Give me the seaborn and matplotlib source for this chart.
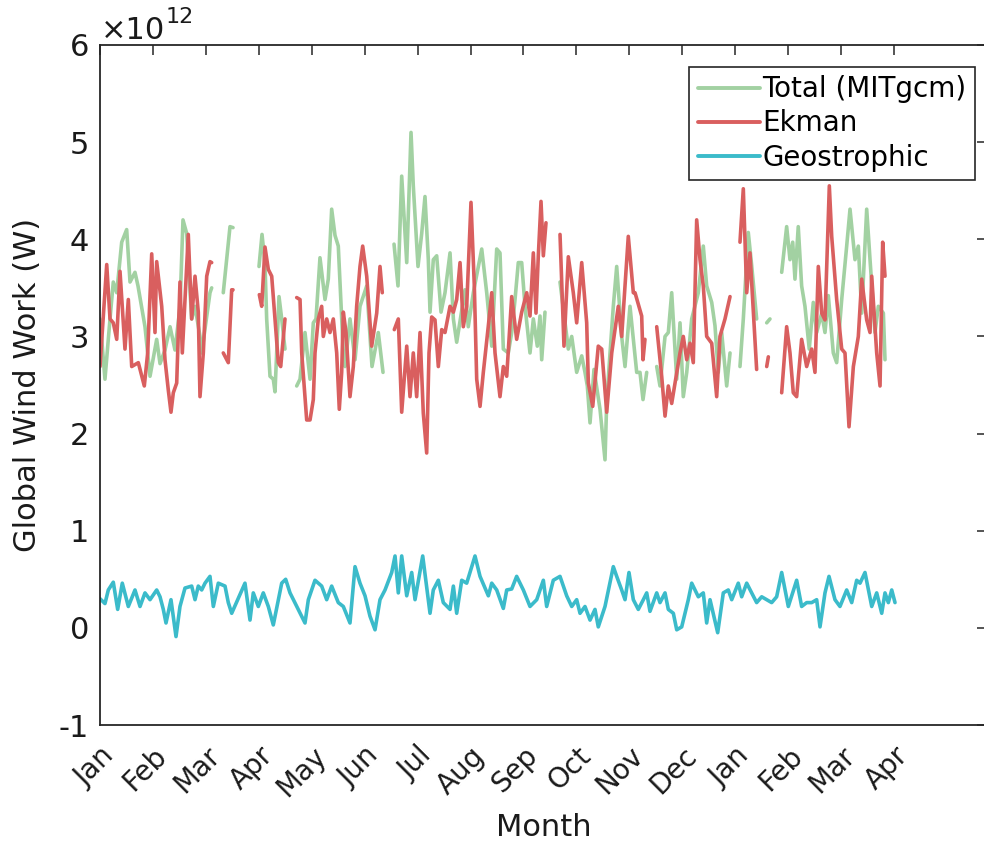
import numpy as np
import pandas as pd
import matplotlib
matplotlib.use("Agg")
import matplotlib.pyplot as plt
from matplotlib.lines import Line2D
import seaborn as sns

nan = np.nan

# ---- data (x in months since Jan 1, values in 1e12 W); NaN marks gaps ----
month_labels = ["Jan", "Feb", "Mar", "Apr", "May", "Jun", "Jul", "Aug", "Sep",
                "Oct", "Nov", "Dec", "Jan", "Feb", "Mar", "Apr"]

total_month = [0, 0.094, 0.189, 0.251, 0.316, 0.410, 0.504, 0.567, 0.661, 0.718, 0.850, 0.945,
               1.071, 1.134, 1.228, 1.323, 1.417, 1.511, 1.568, 1.638, 1.732, 1.795, 1.889, 1.921,
               2.078, 2.110, nan, 2.329, 2.456, 2.513, nan,
               3.004, 3.061, 3.117, 3.149, 3.212, 3.274, 3.306, 3.338, 3.382, 3.433, 3.495, nan,
               3.716, 3.779, 3.873, 3.968, 4.030, 4.081, 4.156, 4.251, 4.313, 4.377, 4.440, 4.502,
               4.597, 4.629, 4.723, 4.818, 4.912, 5.039, 5.139, 5.258, 5.347, nan,
               5.555, 5.630, 5.700, 5.795, 5.876, 5.919, 6.008, 6.078, 6.140, 6.203, 6.235, 6.297,
               6.361, 6.443, 6.518, 6.613, 6.676, 6.739, 6.896, 6.958, 7.053, 7.212, 7.306, 7.401,
               7.495, 7.557, 7.620, 7.714, 7.778, 7.841, 7.903, 7.967, 8.030, 8.124, 8.187, 8.262,
               8.313, 8.345, 8.407, nan,
               8.691, 8.848, 8.912, 9.006, 9.101, 9.163, 9.207, 9.258, 9.333, 9.447, 9.541, 9.573,
               9.636, 9.698, 9.762, 9.856, 9.919, 10.013, 10.140, 10.202, 10.259, 10.329, nan,
               10.518, 10.580, 10.675, 10.737, 10.801, 10.896, 10.958, 11.020, 11.085, 11.179,
               11.304, 11.398, 11.462, 11.557, 11.619, 11.681, 11.745, 11.840, 11.903, nan,
               12.091, 12.154, 12.248, 12.312, 12.406, nan, 12.596, 12.658, nan,
               12.879, 12.973, 13.036, 13.087, 13.130, 13.192, 13.256, 13.319, 13.400, 13.476,
               13.540, 13.635, 13.697, 13.760, 13.854, 13.918, 14.013, 14.107, 14.170, 14.264,
               14.327, 14.391, 14.485, 14.548, 14.642, 14.705, 14.800, 14.831]
total_val = [3.18, 2.56, 3.18, 3.56, 3.45, 3.97, 4.10, 3.56, 3.66, 3.52, 3.10, 2.59,
             2.97, 2.72, 2.86, 3.10, 2.86, 3.30, 4.20, 4.06, 3.18, 3.31, 3.00, 2.83,
             3.45, 3.50, nan, 3.45, 4.13, 4.12, nan,
             3.72, 4.05, 3.75, 3.18, 2.59, 2.56, 2.43, 2.83, 3.41, 3.18, 2.87, nan,
             2.49, 2.56, 3.04, 2.56, 3.14, 3.18, 3.81, 3.38, 3.59, 4.31, 4.04, 3.93,
             2.83, 2.69, 3.18, 2.76, 3.31, 3.52, 2.69, 3.04, 2.63, nan,
             3.95, 3.52, 4.65, 3.76, 5.10, 4.55, 3.72, 4.06, 4.44, 3.79, 3.25, 3.79,
             3.83, 3.25, 3.45, 3.86, 3.18, 2.94, 3.48, 3.10, 3.45, 3.90, 3.45, 2.90,
             3.90, 3.86, 2.87, 2.83, 3.04, 3.38, 3.76, 3.76, 3.31, 2.83, 3.18, 2.90,
             3.21, 2.76, 3.25, nan,
             3.56, 2.87, 3.00, 2.63, 2.80, 2.63, 2.49, 2.11, 2.66, 2.25, 1.73, 2.32,
             2.83, 3.31, 3.72, 3.00, 2.69, 3.31, 2.63, 2.63, 2.35, 2.63, nan,
             2.69, 2.49, 3.00, 3.04, 3.45, 2.56, 3.14, 2.38, 2.63, 3.18,
             3.45, 3.93, 3.52, 3.35, 3.11, 2.63, 3.04, 2.49, 2.83, nan,
             2.69, 3.18, 4.07, 3.73, 3.18, nan, 3.14, 3.18, nan,
             3.66, 4.13, 3.79, 3.97, 3.59, 4.13, 3.52, 3.31, 2.87, 3.35,
             3.04, 3.24, 3.04, 3.42, 2.83, 2.73, 3.38, 3.93, 4.31, 3.79,
             3.93, 3.24, 4.31, 3.79, 3.04, 3.31, 3.24, 2.76]

ekman_month = [0, 0.127, 0.189, 0.251, 0.316, 0.378, 0.472, 0.535, 0.599, 0.724, 0.837, 0.901,
               0.977, 1.039, 1.071, 1.166, 1.228, 1.290, 1.341, 1.385, 1.449, 1.511, 1.555, 1.668,
               1.732, 1.795, 1.857, 1.889, 1.952, 2.016, 2.078, 2.110, nan,
               2.329, 2.424, 2.488, 2.513, nan,
               3.010, 3.055, 3.117, 3.180, 3.244, 3.306, 3.369, 3.414, 3.495, nan,
               3.716, 3.779, 3.811, 3.905, 3.968, 4.030, 4.062, 4.124, 4.188, 4.219, 4.283, 4.345,
               4.408, 4.472, 4.521, 4.566, 4.597, 4.648, 4.723, 4.786, 4.849, 4.912, 4.963, 5.039,
               5.133, 5.228, 5.290, 5.333, nan,
               5.560, 5.636, 5.700, 5.795, 5.857, 5.919, 5.983, 6.046, 6.108, 6.172, 6.216, 6.267,
               6.329, 6.392, 6.456, 6.518, 6.613, 6.676, 6.739, 6.802, 6.864, 6.928, 7.009, 7.072,
               7.117, 7.180, 7.242, 7.337, 7.401, 7.463, 7.557, 7.620, 7.684, 7.778, 7.872, 7.967,
               8.062, 8.124, 8.187, 8.237, 8.281, 8.332, 8.376, 8.426, nan,
               8.691, 8.766, 8.848, 8.942, 9.006, 9.101, 9.195, 9.226, 9.309, 9.414, 9.479, 9.573,
               9.668, 9.792, 9.856, 9.919, 9.981, 10.076, 10.108, 10.234, 10.259, 10.296, nan,
               10.518, 10.612, 10.675, 10.737, 10.801, 10.864, 10.958, 11.020, 11.085, 11.147,
               11.209, 11.273, 11.336, 11.398, 11.462, 11.557, 11.651, 11.713, 11.808, 11.903, nan,
               12.091, 12.154, 12.218, 12.280, 12.406, nan, 12.596, 12.627, nan,
               12.879, 12.973, 13.036, 13.098, 13.162, 13.256, 13.351, 13.446, 13.508, 13.571,
               13.635, 13.697, 13.779, 13.824, 13.918, 14.013, 14.075, 14.151, 14.233, 14.327,
               14.391, 14.485, 14.548, 14.580, 14.674, 14.737, 14.787, 14.831]
ekman_val = [2.69, 3.74, 3.18, 3.14, 2.97, 3.67, 2.87, 3.38, 2.69, 2.73, 2.49, 2.83,
             3.85, 3.04, 3.77, 3.31, 2.76, 2.45, 2.22, 2.42, 2.52, 3.56, 2.83, 4.05,
             3.18, 3.62, 3.25, 2.38, 2.83, 3.62, 3.77, 3.76, nan,
             2.83, 2.73, 3.48, 3.48, nan,
             3.43, 3.31, 3.92, 3.69, 3.62, 3.18, 2.73, 2.69, 3.18, nan,
             3.40, 3.38, 2.83, 2.14, 2.14, 2.35, 2.83, 3.18, 3.31, 3.00, 3.18, 3.04,
             3.18, 2.83, 2.25, 2.63, 3.25, 3.04, 2.38, 2.69, 3.31, 3.72, 3.93, 3.62,
             2.90, 3.24, 3.72, 3.45, nan,
             3.07, 3.18, 2.22, 2.90, 2.38, 2.83, 2.38, 3.04, 2.21, 1.80, 2.83, 3.20,
             3.17, 2.69, 3.07, 3.04, 3.31, 3.25, 3.38, 3.76, 3.10, 3.31, 4.38, 3.52,
             2.56, 2.28, 2.63, 3.11, 3.45, 2.83, 2.38, 2.69, 2.59, 3.41, 2.97, 3.25,
             3.45, 3.21, 3.86, 3.24, 3.83, 4.39, 3.83, 4.17, nan,
             4.05, 2.90, 3.82, 3.45, 3.14, 3.76, 3.14, 2.52, 2.28, 2.90, 2.87, 2.22,
             2.83, 3.31, 3.00, 3.52, 4.03, 3.45, 3.45, 3.21, 2.76, 2.97, nan,
             3.10, 2.59, 2.18, 2.49, 2.31, 2.52, 2.83, 3.00, 2.76, 2.93,
             2.73, 4.20, 3.79, 3.52, 3.00, 2.93, 2.38, 3.00, 3.18, 3.41, nan,
             3.97, 4.52, 3.45, 3.86, 2.66, nan, 2.69, 2.79, nan,
             2.42, 3.10, 2.83, 2.42, 2.38, 2.97, 2.69, 2.87, 2.63, 3.72,
             3.24, 3.17, 4.55, 4.03, 3.38, 2.87, 2.83, 2.07, 2.69, 3.00,
             3.59, 3.17, 3.04, 3.62, 2.83, 2.49, 3.97, 3.62]

geo_month = [0, 0.094, 0.157, 0.251, 0.334, 0.421, 0.535, 0.661, 0.756, 0.850, 0.945, 1.071,
             1.134, 1.196, 1.247, 1.341, 1.436, 1.511, 1.606, 1.732, 1.795, 1.857, 1.921, 1.984,
             2.078, 2.141, 2.235, 2.362, 2.424, 2.488, 2.739, 2.834, 2.896, 2.991, 3.085, 3.180,
             3.274, 3.433, 3.508, 3.590, 3.746, 3.873, 3.936, 4.062, 4.188, 4.283, 4.377, 4.502,
             4.597, 4.723, 4.818, 4.912, 5.007, 5.101, 5.196, 5.290, 5.385, 5.511, 5.574, 5.636,
             5.700, 5.795, 5.889, 5.952, 6.097, 6.235, 6.297, 6.392, 6.486, 6.613, 6.676, 6.739,
             6.834, 6.928, 7.085, 7.180, 7.337, 7.401, 7.495, 7.620, 7.684, 7.778, 7.872, 7.998,
             8.124, 8.251, 8.376, 8.439, 8.564, 8.691, 8.817, 8.912, 9.006, 9.069, 9.163, 9.258,
             9.352, 9.414, 9.541, 9.698, 9.762, 9.856, 9.919, 9.994, 10.076, 10.170, 10.265,
             10.329, 10.391, 10.518, 10.580, 10.675, 10.737, 10.832, 10.896, 10.990, 11.115,
             11.179, 11.304, 11.398, 11.462, 11.525, 11.670, 11.776, 11.870, 11.935, 12.059,
             12.123, 12.218, 12.312, 12.406, 12.501, 12.596, 12.690, 12.784, 12.879, 13.004,
             13.162, 13.256, 13.351, 13.446, 13.540, 13.603, 13.697, 13.773, 13.886, 13.980,
             14.107, 14.202, 14.296, 14.359, 14.453, 14.580, 14.674, 14.769, 14.831, 14.894,
             14.958, 15.020]
geo_val = [0.30, 0.25, 0.39, 0.47, 0.19, 0.46, 0.22, 0.39, 0.22, 0.36, 0.29, 0.39,
           0.32, 0.19, 0.05, 0.29, -0.09, 0.22, 0.41, 0.43, 0.29, 0.43, 0.39, 0.46,
           0.53, 0.22, 0.46, 0.43, 0.26, 0.15, 0.46, 0.08, 0.36, 0.22, 0.36, 0.22,
           0.03, 0.46, 0.50, 0.36, 0.19, 0.05, 0.29, 0.49, 0.43, 0.29, 0.43, 0.26,
           0.22, 0.05, 0.63, 0.46, 0.33, 0.12, -0.02, 0.29, 0.39, 0.57, 0.74, 0.36,
           0.74, 0.33, 0.57, 0.29, 0.74, 0.15, 0.39, 0.49, 0.26, 0.19, 0.43, 0.15,
           0.49, 0.46, 0.74, 0.53, 0.33, 0.46, 0.39, 0.20, 0.39, 0.40, 0.53, 0.39,
           0.22, 0.29, 0.49, 0.22, 0.49, 0.53, 0.33, 0.22, 0.29, 0.15, 0.22, 0.08,
           0.19, 0.01, 0.22, 0.63, 0.53, 0.39, 0.29, 0.57, 0.29, 0.19, 0.29,
           0.36, 0.17, 0.36, 0.26, 0.36, 0.19, 0.15, -0.02, 0.01, 0.29,
           0.46, 0.32, 0.36, 0.05, 0.29, -0.05, 0.36, 0.39, 0.29, 0.46,
           0.32, 0.46, 0.36, 0.26, 0.32, 0.29, 0.26, 0.32, 0.57, 0.22,
           0.49, 0.22, 0.26, 0.26, 0.29, 0.01, 0.36, 0.53, 0.29, 0.22,
           0.39, 0.26, 0.49, 0.46, 0.57, 0.22, 0.36, 0.15, 0.36, 0.26,
           0.39, 0.26]

series_names = ["Total (MITgcm)", "Ekman", "Geostrophic"]
series_colors = ["#A2D1A2", "#D95F5F", "#3BBBCA"]

# ---- style ----
sns.set_style("white")
plt.rcParams["font.family"] = ["DejaVu Sans"]
plt.rcParams["axes.unicode_minus"] = False
text_color = "#1a1a1a"

fig = plt.figure(figsize=(9.84, 8.47), dpi=100)
ax = fig.add_axes([100 / 984, 1 - 725 / 847, 887 / 984, 680 / 847])


def segments(xs, ys):
    df = pd.DataFrame({"month": xs, "value": ys})
    df["seg"] = df["month"].isna().cumsum()
    return df.dropna()


for xs, ys, col in [(total_month, total_val, series_colors[0]),
                    (ekman_month, ekman_val, series_colors[1]),
                    (geo_month, geo_val, series_colors[2])]:
    d = segments(xs, ys)
    sns.lineplot(data=d, x="month", y="value", units="seg", estimator=None,
                 sort=False, color=col, linewidth=2.6, ax=ax, legend=False)

ax.set_xlim(0, 887 / 52.93)
ax.set_ylim(-1, 6)
ax.set_xticks(range(len(month_labels)))
ax.set_xticklabels(month_labels, rotation=45, ha="right", va="top",
                   rotation_mode="anchor", fontsize=20, color=text_color)
ax.set_yticks(range(-1, 7))
ax.set_yticklabels([str(v) for v in range(-1, 7)], fontsize=22, color=text_color)
ax.tick_params(direction="in", top=True, right=True, length=7, width=1.1,
               color="#262626", pad=8)
ax.tick_params(axis="x", pad=12)
for sp in ax.spines.values():
    sp.set_color("#262626")
    sp.set_linewidth(1.3)

ax.set_xlabel("Month", fontsize=22, labelpad=8, color=text_color)
ax.set_ylabel("Global Wind Work (W)", fontsize=22, labelpad=12, color=text_color)

# exponent label
fig.text(101 / 984, 1 - 39 / 847, "×10", fontsize=22, ha="left", va="baseline",
         color=text_color)
fig.text(166 / 984, 1 - 23 / 847, "12", fontsize=16, ha="left", va="baseline",
         color=text_color)

handles = [Line2D([0], [0], color=c, lw=2.8) for c in series_colors]
leg = ax.legend(handles, series_names, loc="upper right",
                bbox_to_anchor=(975 / 984, 1 - 67 / 847),
                bbox_transform=fig.transFigure, borderaxespad=0,
                fontsize=20, frameon=True, fancybox=False, framealpha=1,
                handlelength=2.25, handletextpad=0.08, labelspacing=0.22,
                borderpad=0.3)
leg.get_frame().set_edgecolor("#262626")
leg.get_frame().set_linewidth(1.2)
for t in leg.get_texts():
    t.set_color("black")

fig.savefig("out.png", dpi=100)
